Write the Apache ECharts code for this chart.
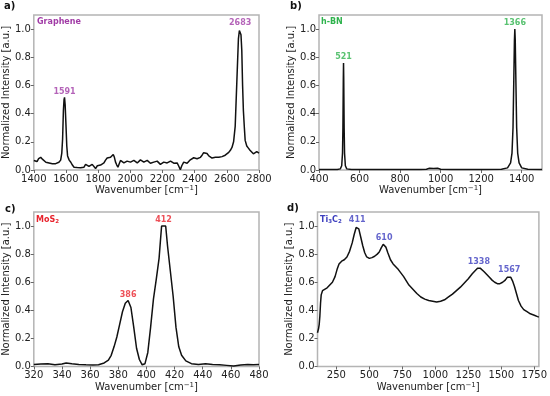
<!DOCTYPE html>
<html><head><meta charset="utf-8">
<script src="https://cdn.jsdelivr.net/npm/echarts@6/dist/echarts.min.js"></script>
<style>html,body{margin:0;padding:0;background:#fff}#c{width:550px;height:396px}</style>
</head><body><div id="c"></div>
<script>
// ---- Graphene ----
const grapheneX = [1400,1410,1420,1430,1443,1455,1465,1475,1485,1495,1505,1515,1526,1536,1546,1556,1567,1574,1579,1584,1588,1591,1595,1600,1605,1610,1620,1630,1640,1650,1660,1670,1680,1691,1700,1712,1722,1732,1743,1753,1763,1773,1784,1795,1805,1815,1825,1836,1846,1856,1866,1877,1886,1894,1901,1908,1916,1923,1931,1939,1950,1960,1970,1980,1990,2001,2011,2022,2032,2043,2053,2063,2074,2084,2095,2105,2115,2125,2136,2146,2156,2167,2177,2187,2198,2208,2218,2229,2239,2250,2260,2270,2280,2291,2300,2311,2320,2332,2342,2353,2363,2373,2384,2394,2405,2415,2425,2436,2446,2456,2467,2477,2488,2498,2508,2518,2529,2539,2550,2560,2570,2580,2590,2601,2612,2622,2632,2642,2652,2662,2672,2678,2683,2688,2693,2698,2703,2709,2714,2724,2734,2744,2754,2765,2775,2786,2795,2800];
const grapheneY = [0.068,0.07,0.06,0.08,0.09,0.075,0.065,0.055,0.045,0.05,0.04,0.045,0.056,0.045,0.05,0.055,0.07,0.12,0.22,0.42,0.5,0.515,0.46,0.32,0.17,0.1,0.07,0.055,0.035,0.02,0.025,0.018,0.022,0.016,0.025,0.02,0.04,0.035,0.025,0.03,0.04,0.03,0.01,0.03,0.04,0.035,0.04,0.05,0.07,0.085,0.075,0.09,0.1,0.11,0.09,0.056,0.035,0.02,0.045,0.068,0.06,0.05,0.058,0.063,0.05,0.056,0.06,0.068,0.055,0.05,0.06,0.072,0.06,0.056,0.06,0.068,0.055,0.048,0.05,0.056,0.06,0.063,0.05,0.04,0.05,0.056,0.052,0.05,0.06,0.063,0.055,0.048,0.052,0.05,0.03,0.002,0.03,0.056,0.05,0.048,0.06,0.072,0.08,0.087,0.075,0.08,0.085,0.09,0.105,0.123,0.125,0.117,0.1,0.087,0.085,0.08,0.09,0.095,0.09,0.087,0.095,0.1,0.105,0.117,0.125,0.14,0.16,0.2,0.31,0.62,0.93,0.99,1.0,0.96,0.85,0.6,0.42,0.3,0.21,0.17,0.155,0.14,0.13,0.115,0.12,0.13,0.125,0.12];
const graphenePeaks = [1591, 2683];
const graphenePeakY = [0.515, 1.0];

// ---- h-BN ----
const hbnX = [400,450,490,505,512,516,518,520,521,522,524,526,530,537,560,700,900,930,945,965,985,1000,1050,1200,1300,1330,1345,1352,1357,1361,1364,1366,1368,1371,1375,1380,1387,1400,1430,1500];
const hbnY = [0.003,0.003,0.004,0.008,0.03,0.12,0.3,0.65,0.76,0.65,0.3,0.12,0.03,0.008,0.004,0.003,0.003,0.006,0.012,0.011,0.012,0.005,0.003,0.003,0.005,0.015,0.05,0.12,0.3,0.65,0.92,1.0,0.92,0.65,0.3,0.12,0.05,0.015,0.006,0.003];
const hbnPeaks = [521, 1366];
const hbnPeakY = [0.76, 1.0];

// ---- MoS2 ----
const mosX = [320,325,330,335,340,343,347,352,357,362,366,370,373,375,377,379,381,383,385,387,389,391,393,395,397,399,401,403,405,407,409,410,410.8,413.7,415,417,419,421,423,425,428,432,437,442,447,452,457,462,467,472,476,480];
const mosY = [0.015,0.018,0.02,0.012,0.018,0.025,0.02,0.015,0.012,0.01,0.012,0.025,0.045,0.08,0.14,0.21,0.3,0.39,0.45,0.47,0.42,0.28,0.13,0.05,0.012,0.02,0.1,0.28,0.48,0.62,0.77,0.9,1.0,1.0,0.86,0.68,0.5,0.28,0.14,0.08,0.04,0.02,0.015,0.02,0.015,0.012,0.008,0.004,0.01,0.015,0.012,0.015];
const mosPeaks = [386, 412];
const mosPeakX = [387, 412.2];
const mosPeakY = [0.47, 1.0];

// ---- Ti3C2 ----
const tiX = [107,115,120,125,130,135,145,160,180,200,220,240,255,270,290,310,330,350,370,385,400,410,420,435,450,465,480,500,520,540,560,575,590,605,615,625,640,660,680,700,720,740,760,780,800,830,860,890,920,950,980,1010,1040,1070,1100,1130,1160,1190,1220,1250,1280,1305,1320,1340,1355,1370,1390,1410,1430,1450,1470,1490,1510,1530,1545,1560,1572,1585,1600,1615,1630,1650,1670,1695,1720,1750,1775,1785];
const tiY = [0.24,0.27,0.3,0.36,0.45,0.51,0.54,0.55,0.56,0.58,0.6,0.64,0.69,0.73,0.75,0.76,0.78,0.82,0.88,0.94,0.99,1.0,0.98,0.92,0.86,0.81,0.78,0.77,0.775,0.785,0.8,0.815,0.845,0.87,0.87,0.85,0.81,0.76,0.73,0.71,0.69,0.665,0.64,0.61,0.58,0.55,0.52,0.495,0.48,0.47,0.465,0.46,0.465,0.475,0.495,0.515,0.54,0.565,0.595,0.625,0.66,0.685,0.7,0.7,0.695,0.675,0.655,0.635,0.615,0.6,0.59,0.59,0.6,0.615,0.635,0.645,0.635,0.61,0.57,0.52,0.47,0.43,0.405,0.39,0.375,0.365,0.355,0.352];
const tiPeaks = [411, 610, 1338, 1567];
const tiPeakX = [408, 612, 1330, 1560];
const tiPeakY = [1.0, 0.87, 0.7, 0.645];

// ---- ticks ----
const yTicks = [0, 0.2, 0.4, 0.6, 0.8, 1.0];
const xTicksA = [1400,1600,1800,2000,2200,2400,2600,2800];
const xTicksB = [400,600,800,1000,1200,1400];
const xTicksC = [320,340,360,380,400,420,440,460,480];
const xTicksD = [250,500,750,1000,1250,1500,1750];

const zip = (a, b) => a.map((v, i) => [v, b[i]]);
const FONT = 'DejaVu Sans';
const grids = [
  {left: 33, top: 15, width: 226, height: 155},
  {left: 319, top: 15, width: 223, height: 155},
  {left: 33, top: 212, width: 226, height: 154.5},
  {left: 317.5, top: 212, width: 224.5, height: 154.5}
];
const xCfg = [
  {min: 1400, max: 2800, ticks: xTicksA},
  {min: 400, max: 1500, ticks: xTicksB},
  {min: 320, max: 480, ticks: xTicksC},
  {min: 107, max: 1785, ticks: xTicksD}
];
const yGaps = [19, 19, 19, 21];
const colors = ['#a13ca6', '#2fb34d', '#e8232d', '#3d3fbf'];

const option = {
  animation: false,
  grid: grids.map(g => Object.assign({show: true, borderColor: '#b4b4b4', borderWidth: 1.5, containLabel: false}, g)),
  xAxis: xCfg.map((c, i) => ({
    type: 'value', gridIndex: i, min: c.min, max: c.max,
    axisLine: {show: false},
    axisTick: {show: true, length: 3, lineStyle: {color: '#666'}, customValues: c.ticks},
    axisLabel: {customValues: c.ticks, color: '#222', fontSize: 10, fontFamily: FONT, margin: 4,
      formatter: v => String(v)},
    splitLine: {show: false},
    name: 'Wavenumber [cm{sup|−1}]',
    nameLocation: 'middle', nameGap: 14,
    nameTextStyle: {color: '#222', fontSize: 10, fontFamily: FONT,
      rich: {sup: {fontSize: 7, verticalAlign: 'top', padding: [0,0,5,0], color: '#222', fontFamily: FONT}}}
  })),
  yAxis: grids.map((g, i) => ({
    type: 'value', gridIndex: i, min: 0, max: 1.1,
    axisLine: {show: false},
    axisTick: {show: true, length: 3, lineStyle: {color: '#666'}, customValues: yTicks},
    axisLabel: {customValues: yTicks, color: '#222', fontSize: 10, fontFamily: FONT, margin: 3,
      formatter: v => v.toFixed(1)},
    splitLine: {show: false},
    name: 'Normalized Intensity [a.u.]',
    nameLocation: 'middle', nameGap: yGaps[i],
    nameTextStyle: {color: '#222', fontSize: 10, fontFamily: FONT}
  })),
  series: [],
  graphic: []
};

const lines = [zip(grapheneX, grapheneY), zip(hbnX, hbnY), zip(mosX, mosY), zip(tiX, tiY)];
const peaks = [
  zip(graphenePeaks, graphenePeakY).map((p, i) => [p[0], p[1], graphenePeaks[i]]),
  zip(hbnPeaks, hbnPeakY).map((p, i) => [p[0], p[1], hbnPeaks[i]]),
  zip(mosPeakX, mosPeakY).map((p, i) => [p[0], p[1], mosPeaks[i]]),
  zip(tiPeakX, tiPeakY).map((p, i) => [p[0], p[1], tiPeaks[i]])
];
lines.forEach((d, i) => {
  option.series.push({type: 'line', xAxisIndex: i, yAxisIndex: i, data: d, showSymbol: false, symbol: 'none',
    lineStyle: {color: '#111', width: 1.5}, z: 3});
  option.series.push({type: 'scatter', xAxisIndex: i, yAxisIndex: i, data: peaks[i], symbolSize: 0.01,
    label: {show: true, position: 'top', distance: 2, formatter: p => String(p.value[2]),
      color: colors[i], fontSize: 8, fontWeight: 'bold', fontFamily: FONT}, z: 4});
});

const panelLabels = [['a)', 4, 1], ['b)', 290, 1], ['c)', 5, 204], ['d)', 287, 203]];
panelLabels.forEach(p => option.graphic.push({type: 'text', left: p[1], top: p[2],
  style: {text: p[0], fontSize: 10, fontWeight: 'bold', fontFamily: FONT, fill: '#111'}}));

const sampleLabels = [
  ['Graphene', 37, 18, colors[0]],
  ['h-BN', 321, 18, colors[1]],
  ['MoS{s|2}', 36, 216, colors[2]],
  ['Ti{s|3}C{s|2}', 320, 216, colors[3]]
];
sampleLabels.forEach(p => option.graphic.push({type: 'text', left: p[1], top: p[2], z: 10,
  style: {text: p[0], fontSize: 8, fontWeight: 'bold', fontFamily: FONT, fill: p[3],
    rich: {s: {fontSize: 5.5, fontWeight: 'bold', fontFamily: FONT, fill: p[3], verticalAlign: 'bottom', padding: [4,0,0,0]}}}}));

const chart = echarts.init(document.getElementById('c'), null, {renderer: 'canvas'});
chart.setOption(option);
</script></body></html>
